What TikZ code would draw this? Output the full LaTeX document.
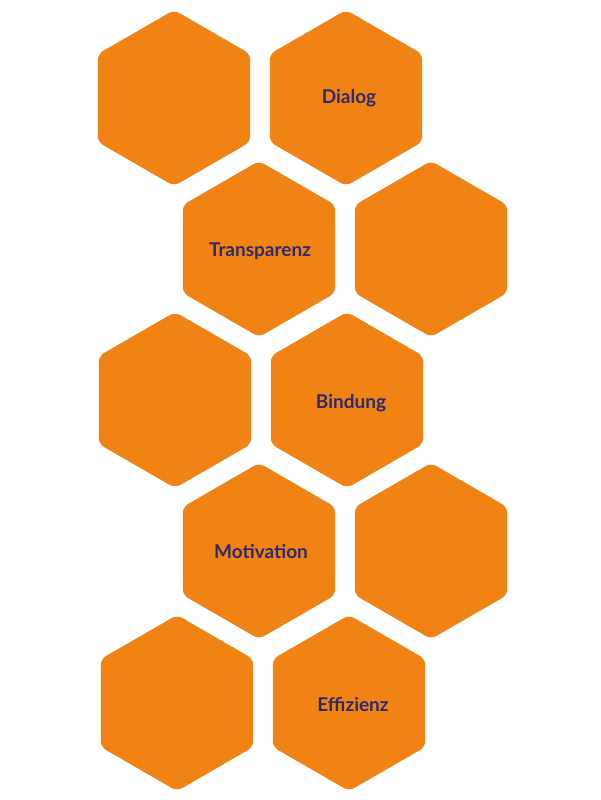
\documentclass[tikz,border=0pt]{standalone}
\usepackage{fontspec}
\setmainfont{Lato}
\usetikzlibrary{shapes.geometric}
\definecolor{hexor}{HTML}{F08314}
\definecolor{txt}{HTML}{2E2A6B}
\tikzset{hexa/.style={regular polygon,regular polygon sides=6,shape border rotate=30,minimum size=176pt,inner sep=0pt,fill=hexor,rounded corners=6pt},
lab/.style={text=txt,font=\bfseries\fontsize{19}{22}\selectfont}}
\begin{document}
\begin{tikzpicture}[x=1pt,y=-1pt]
\useasboundingbox (0,0) rectangle (600,800);
\node[hexa] (h1) at (174,98) {};
\node[hexa] (h2) at (346,98) {};
\node[hexa] (h3) at (259,249) {};
\node[hexa] (h4) at (431,249) {};
\node[hexa] (h5) at (175,400) {};
\node[hexa] (h6) at (347,400) {};
\node[hexa] (h7) at (259,551) {};
\node[hexa] (h8) at (431,551) {};
\node[hexa] (h9) at (177,703) {};
\node[hexa] (h10) at (349,703) {};
\node[lab] (t1) at (349,98) {Dialog};
\node[lab] (t2) at (260,251) {Transparenz};
\node[lab] (t3) at (351,403) {Bindung};
\node[lab] (t4) at (261,552) {Motivation};
\node[lab] (t5) at (353,704) {Effizienz};
\end{tikzpicture}
\end{document}
